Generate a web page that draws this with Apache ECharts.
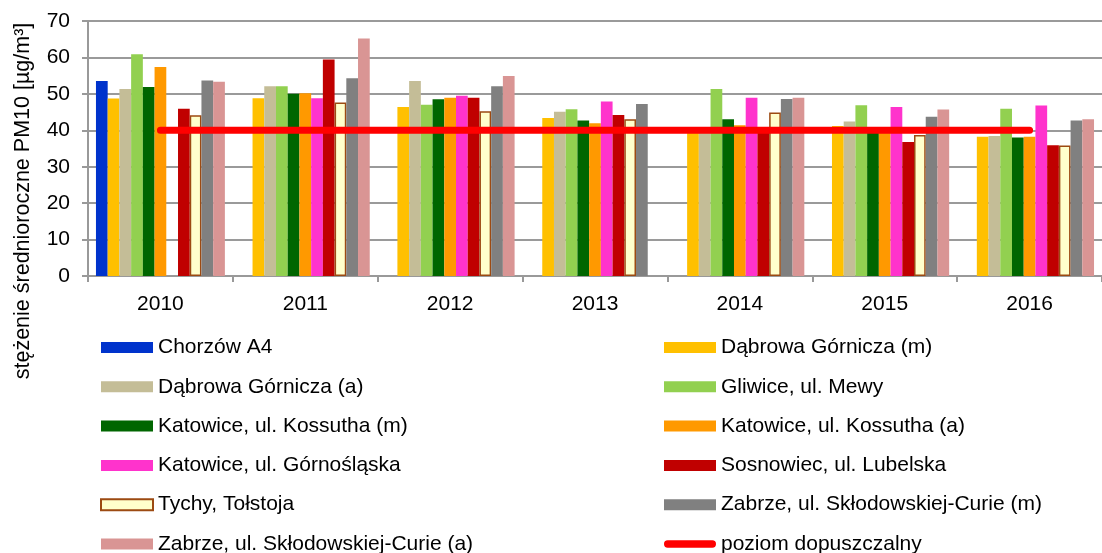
<!DOCTYPE html>
<html>
<head>
<meta charset="utf-8">
<script src="https://cdn.jsdelivr.net/npm/echarts@6/dist/echarts.min.js"></script>
<style>
  html, body { margin: 0; padding: 0; background: #fff; }
  #echart_box { width: 1102px; height: 553px; }
</style>
</head>
<body>
<div id="echart_box"></div>
<script>
let years = ['2010', '2011', '2012', '2013', '2014', '2015', '2016']
let yTicks = [0, 10, 20, 30, 40, 50, 60, 70]
let stationNames = [
    'Chorzów A4', 'Dąbrowa Górnicza (m)', 'Dąbrowa Górnicza (a)', 'Gliwice, ul. Mewy',
    'Katowice, ul. Kossutha (m)', 'Katowice, ul. Kossutha (a)', 'Katowice, ul. Górnośląska',
    'Sosnowiec, ul. Lubelska', 'Tychy, Tołstoja', 'Zabrze, ul. Skłodowskiej-Curie (m)',
    'Zabrze, ul. Skłodowskiej-Curie (a)'
]
let limitName = 'poziom dopuszczalny'

// wartości, '-' = brak pomiaru
let chorzow      = [53.5, '-', '-', '-', '-', '-', '-']
let dabrowaM     = [48.7, 48.8, 46.4, 43.4, 40.3, 41.2, 38.2]
let dabrowaA     = [51.3, 52.1, 53.5, 45.1, 40.0, 42.4, 38.4]
let gliwice      = [60.9, 52.1, 47.0, 45.8, 51.3, 46.9, 45.9]
let kossuthaM    = [51.9, 50.0, 48.5, 42.7, 43.0, 40.2, 38.0]
let kossuthaA    = [57.4, 50.2, 48.9, 41.9, 41.4, 39.8, 38.2]
let gornoslaska  = ['-', 48.8, 49.5, 47.9, 48.9, 46.4, 46.8]
let sosnowiec    = [45.9, 59.4, 48.9, 44.2, 40.5, 36.8, 35.9]
let tychy        = [44.1, 47.6, 45.2, 43.0, 44.9, 38.7, 35.8]
let zabrzeM      = [53.7, 54.3, 52.1, 47.2, 48.6, 43.7, 42.7]
let zabrzeA      = [53.3, 65.2, 54.9, '-', 48.9, 45.7, 43.0]
let limitValues  = [40, 40, 40, 40, 40, 40, 40]

let stationData = [chorzow, dabrowaM, dabrowaA, gliwice, kossuthaM, kossuthaA,
    gornoslaska, sosnowiec, tychy, zabrzeM, zabrzeA]
let stationColors = ['#0033cc', '#ffc000', '#c4bd97', '#92d050', '#006600', '#ff9900',
    '#ff33cc', '#c00000', '#ffffcc', '#808080', '#d99594']

let barSeries = stationNames.map((name, i) => {
    let s = {
        name: name,
        type: 'bar',
        data: stationData[i],
        barGap: '0%',
        barCategoryGap: '11%',
        itemStyle: { color: stationColors[i] }
    }
    if (name === 'Tychy, Tołstoja') {
        s.itemStyle.borderColor = '#9c4a12'
        s.itemStyle.borderWidth = 1.5
    }
    return s
})

let myChart = echarts.init(document.getElementById('echart_box'))
let legendText = { color: '#000', fontSize: 21, fontFamily: 'Liberation Sans, Arial', lineHeight: 21 }
let option = {
    animation: false,
    grid: { left: 88, top: 21, width: 1020, height: 255 },
    graphic: [{
        type: 'text',
        x: 23,
        y: 201,
        rotation: Math.PI / 2,
        style: {
            text: 'stężenie średnioroczne PM10 [µg/m³]',
            fill: '#000',
            font: '21.5px "Liberation Sans", Arial',
            textAlign: 'center',
            textVerticalAlign: 'middle'
        }
    }],
    legend: [
        {
            orient: 'vertical', left: 100, top: 337, height: 240, padding: 0,
            itemWidth: 52, itemHeight: 11, itemGap: 18.3, icon: 'rect',
            textStyle: legendText,
            data: stationNames.filter((n, i) => i % 2 === 0)
        },
        {
            orient: 'vertical', left: 664, top: 337, height: 240, padding: 0,
            itemWidth: 52, itemHeight: 11, itemGap: 18.3, icon: 'rect',
            textStyle: legendText,
            data: stationNames.filter((n, i) => i % 2 === 1).concat([{
                name: limitName,
                icon: 'path://M4,0 L52,0 A4,4 0 0 1 52,8 L4,8 A4,4 0 0 1 4,0 Z'
            }])
        }
    ],
    xAxis: {
        type: 'category',
        data: years,
        axisLine: { lineStyle: { color: '#999', width: 2 } },
        axisTick: { show: true, length: 6, lineStyle: { color: '#999', width: 2 } },
        axisLabel: { color: '#000', fontSize: 21, fontFamily: 'Liberation Sans, Arial', margin: 18 }
    },
    yAxis: {
        type: 'value',
        min: yTicks[0],
        max: yTicks[yTicks.length - 1],
        interval: 10,
        axisLine: { show: true, lineStyle: { color: '#999', width: 2 } },
        axisTick: { show: true, length: 6, lineStyle: { color: '#999', width: 2 } },
        splitLine: { lineStyle: { color: '#9a9a9a', width: 2 } },
        axisLabel: { color: '#000', fontSize: 21, fontFamily: 'Liberation Sans, Arial', margin: 18 }
    },
    series: barSeries.concat([{
        name: limitName,
        type: 'line',
        data: limitValues,
        symbol: 'none',
        z: 5,
        itemStyle: { color: '#ff0000' },
        lineStyle: { color: '#ff0000', width: 7, cap: 'round' }
    }])
}
myChart.setOption(option)
</script>
</body>
</html>
